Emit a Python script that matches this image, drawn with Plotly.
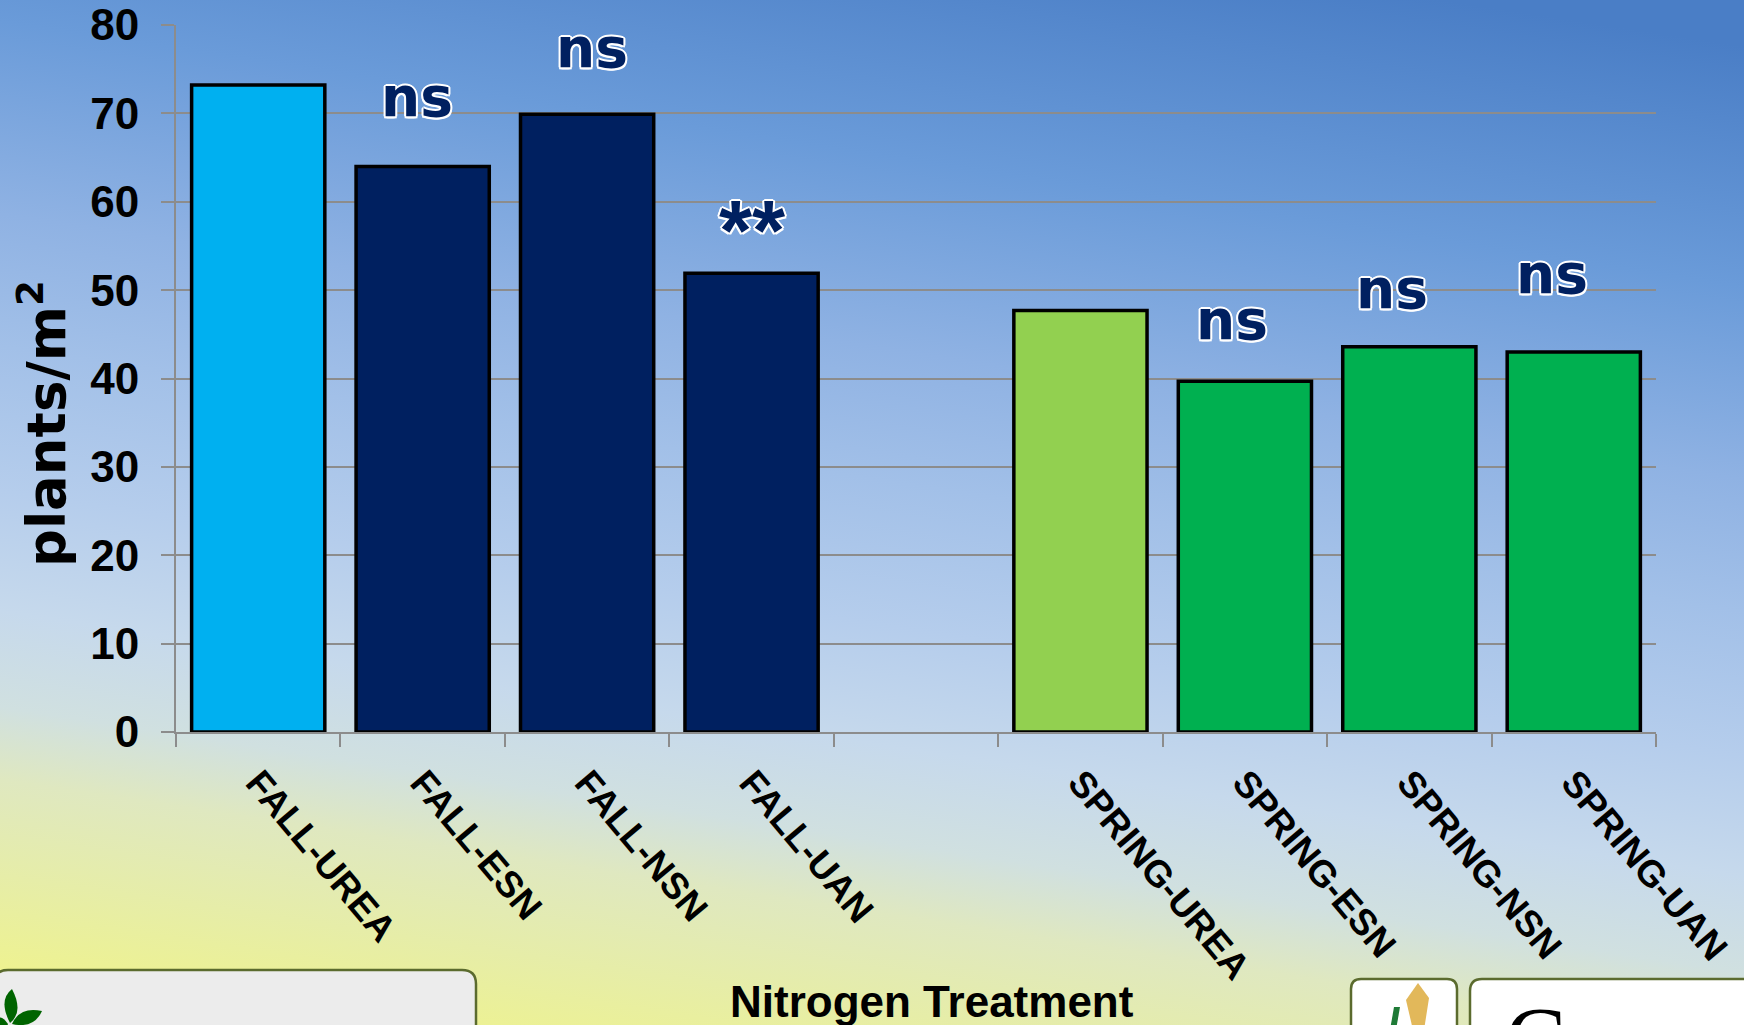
import base64
import plotly.graph_objects as go

# --- data -------------------------------------------------------------
treatments = ["FALL-UREA", "FALL-ESN", "FALL-NSN", "FALL-UAN", " ",
              "SPRING-UREA", "SPRING-ESN", "SPRING-NSN", "SPRING-UAN"]
plants_per_m2 = [73.2, 64.0, 69.9, 51.9, None, 47.7, 39.7, 43.6, 43.0]
bar_colors = ["#00B0F0", "#002060", "#002060", "#002060", "rgba(0,0,0,0)",
              "#92D050", "#00B050", "#00B050", "#00B050"]

# significance marks vs. the UREA check of each season
sig_treatments = ["FALL-ESN", "FALL-NSN", "FALL-UAN", "SPRING-ESN", "SPRING-NSN", "SPRING-UAN"]
sig_labels = ["ns", "ns", "**", "ns", "ns", "ns"]

y_ticks = [0, 10, 20, 30, 40, 50, 60, 70, 80]

# --- page geometry (px) ----------------------------------------------
PW, PH = 1744, 1025
ML, MR, MT, MB = 176, 88, 25, 293
W, H = PW - ML - MR, PH - MT - MB


def px(x):
    return (x - ML) / W


def py(y):
    return 1 - (y - MT) / H


# --- background gradient as an inline SVG -----------------------------
stops = [(0.0, "#eff38d"), (0.09, "#e6eda8"), (0.17, "#dfe8c0"), (0.23, "#d0e0e0"),
         (0.31, "#c6d9ec"), (0.41, "#b5cdec"), (0.53, "#a2c0e8"), (0.64, "#8fb2e3"),
         (0.80, "#6a9bd9"), (1.0, "#4a7ec6")]
stop_xml = "".join(f'<stop offset="{o}" stop-color="{c}"/>' for o, c in stops)
svg = (f'<svg xmlns="http://www.w3.org/2000/svg" width="{PW}" height="{PH}" '
       f'viewBox="0 0 {PW} {PH}" preserveAspectRatio="none">'
       f'<defs><linearGradient id="g" gradientUnits="userSpaceOnUse" x1="40" y1="990" x2="219" y2="-186">'
       f'{stop_xml}</linearGradient></defs>'
       f'<rect width="{PW}" height="{PH}" fill="url(#g)"/></svg>')
bg_src = "data:image/svg+xml;base64," + base64.b64encode(svg.encode()).decode()

fig = go.Figure()
fig.add_trace(go.Bar(
    x=treatments, y=plants_per_m2,
    marker=dict(color=bar_colors, line=dict(color="#000000", width=3.5)),
    width=0.81, hoverinfo="x+y",
))

# significance labels: navy text with white outline
outline = ("2px 0 0 #fff, -2px 0 0 #fff, 0 2px 0 #fff, 0 -2px 0 #fff, "
           "1.5px 1.5px 0 #fff, -1.5px -1.5px 0 #fff, 1.5px -1.5px 0 #fff, -1.5px 1.5px 0 #fff")
label_shift = {"FALL-ESN": (-6, 69), "FALL-NSN": (5, 66), "FALL-UAN": (0, 43),
               "SPRING-ESN": (-13, 61), "SPRING-NSN": (-17, 58), "SPRING-UAN": (-22, 78)}
annotations = []
for t, lab in zip(sig_treatments, sig_labels):
    v = plants_per_m2[treatments.index(t)]
    dx, dy = label_shift[t]
    if lab == "**":
        fnt = dict(family="Liberation Sans, Arial, sans-serif", size=85)
    else:
        fnt = dict(family="DejaVu Sans, Arial, sans-serif", size=55)
    annotations.append(dict(
        x=t, y=v, xref="x", yref="y", text=lab, showarrow=False,
        xanchor="center", yanchor="middle", xshift=dx, yshift=dy,
        font=dict(color="#002060", weight="bold", shadow=outline, **fnt),
    ))

# axis titles
annotations.append(dict(
    x=px(43), y=py(424), xref="paper", yref="paper", showarrow=False,
    text="plants/m<sup>2</sup>", textangle=-90, xanchor="center", yanchor="middle",
    font=dict(family="DejaVu Sans, Arial, sans-serif", size=53, color="#000", weight="bold"),
))
annotations.append(dict(
    x=px(932), y=py(1001), xref="paper", yref="paper", showarrow=False,
    text="Nitrogen Treatment", xanchor="center", yanchor="middle",
    font=dict(family="Liberation Sans, Arial, sans-serif", size=44, color="#000", weight="bold"),
))
# serif letter in the right-hand badge
annotations.append(dict(
    x=px(1535), y=py(1008), xref="paper", yref="paper", showarrow=False,
    text="C", xanchor="center", yanchor="top", yshift=22,
    font=dict(family="Liberation Serif, DejaVu Serif, serif", size=92, color="#000"),
))


def rrect(x0, y0, x1, y1, r):
    # rounded-top rectangle path in paper coordinates
    return (f"M {px(x0)},{py(y1)} L {px(x0)},{py(y0 + r)} "
            f"Q {px(x0)},{py(y0)} {px(x0 + r)},{py(y0)} "
            f"L {px(x1 - r)},{py(y0)} Q {px(x1)},{py(y0)} {px(x1)},{py(y0 + r)} "
            f"L {px(x1)},{py(y1)} Z")


def poly(points):
    return "M " + " L ".join(f"{px(a)},{py(b)}" for a, b in points) + " Z"


def leaf(points):
    # pointed leaf: base (a,b), control (c,d), tip (e,f), mirrored back to the base
    (a, b), (c, d), (e, f) = points
    return (f"M {px(a)},{py(b)} Q {px(c)},{py(d)} {px(e)},{py(f)} "
            f"Q {px(a + e - c)},{py(b + f - d)} {px(a)},{py(b)} Z")


border = "#5b6b2e"
shapes = [
    dict(type="path", xref="paper", yref="paper", path=rrect(-6, 970, 476, 1040, 14),
         fillcolor="#ececec", line=dict(color=border, width=2.5), layer="above"),
    dict(type="path", xref="paper", yref="paper", path=rrect(1351, 979, 1457, 1040, 10),
         fillcolor="#ffffff", line=dict(color=border, width=2.5), layer="above"),
    dict(type="path", xref="paper", yref="paper", path=rrect(1470, 979, 1760, 1040, 12),
         fillcolor="#ffffff", line=dict(color=border, width=2.5), layer="above"),
    # leaf emblem
    dict(type="path", xref="paper", yref="paper",
         path=leaf([(10, 1023), (-2, 1000), (12, 989)]), fillcolor="#006400",
         line=dict(width=0), layer="above"),
    dict(type="path", xref="paper", yref="paper",
         path=leaf([(12, 1024), (20, 1006), (42, 1011)]), fillcolor="#006400",
         line=dict(width=0), layer="above"),
    dict(type="path", xref="paper", yref="paper",
         path=leaf([(8, 1024), (0, 1012), (-4, 1022)]), fillcolor="#006400",
         line=dict(width=0), layer="above"),
    # wheat-style mark in the middle badge
    dict(type="path", xref="paper", yref="paper",
         path=poly([(1413, 1030), (1406, 1000), (1418, 983), (1429, 998), (1424, 1030)]),
         fillcolor="#e2b85a", line=dict(width=0), layer="above"),
    dict(type="path", xref="paper", yref="paper",
         path=poly([(1390, 1030), (1394, 1007), (1400, 1007), (1396, 1030)]),
         fillcolor="#1e7a36", line=dict(width=0), layer="above"),
]

fig.update_layout(
    width=PW, height=PH,
    margin=dict(l=ML, r=MR, t=MT, b=MB, pad=0),
    paper_bgcolor="#b5cdec", plot_bgcolor="rgba(0,0,0,0)",
    showlegend=False, bargap=0.19,
    images=[dict(source=bg_src, xref="paper", yref="paper",
                 x=-ML / W, y=1 + MT / H, sizex=PW / W, sizey=PH / H,
                 xanchor="left", yanchor="top", sizing="stretch", layer="below")],
    annotations=annotations, shapes=shapes,
    font=dict(family="Liberation Sans, Arial, sans-serif", color="#000"),
)
fig.update_yaxes(
    range=[0, 80], tickvals=y_ticks, showgrid=True, gridcolor="#8c8c8c", gridwidth=2,
    showline=True, linecolor="#8c8c8c", linewidth=2, ticks="outside", ticklen=13,
    tickwidth=2, tickcolor="#8c8c8c", zeroline=False, automargin=False,
    tickfont=dict(family="Liberation Sans, Arial, sans-serif", size=44, color="#000", weight="bold"),
    ticklabelstandoff=13, fixedrange=True,
)
fig.update_xaxes(
    type="category", categoryorder="array", categoryarray=treatments,
    showline=True, linecolor="#8c8c8c", linewidth=2, ticks="outside", ticklen=13,
    tickwidth=2, tickcolor="#8c8c8c", tickson="boundaries", showgrid=False,
    tickangle=50, automargin=False, fixedrange=True,
    tickfont=dict(family="Liberation Sans, Arial, sans-serif", size=37, color="#000", weight="bold"),
    ticklabelstandoff=12,
)

fig.write_html("out.html", config={"displayModeBar": False})
